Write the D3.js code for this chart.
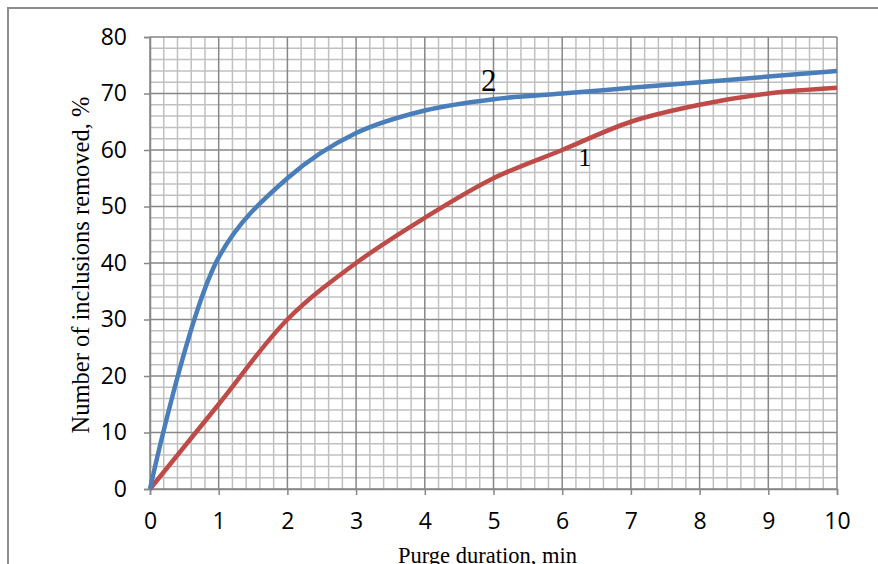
<!DOCTYPE html>
<html>
<script src="https://d3js.org/d3.v7.min.js"></script>
<body style="margin:0;background:#fff">
<svg id="chart" width="878" height="564"></svg>
<script>
// ---------------------------
// Data
// ---------------------------
var purgeMinutes = [0, 1, 2, 3, 4, 5, 6, 7, 8, 9, 10];
var removedCurve1 = [0, 15, 30, 40, 48, 55, 60, 65, 68, 70, 71];
var removedCurve2 = [0, 41, 55, 63, 67, 69, 70, 71, 72, 73, 74];
var xTicks = [0, 1, 2, 3, 4, 5, 6, 7, 8, 9, 10];
var yTicks = [0, 10, 20, 30, 40, 50, 60, 70, 80];

// ---------------------------
// Constants
// ---------------------------
var plotLeft = 150, plotRight = 837, plotTop = 37, plotBottom = 489;
var majorColour = "#878787";
var minorColour = "#c0c0c0";
var tickFont = "Open Sans, Liberation Sans, sans-serif";
var titleFont = "Liberation Serif, Times New Roman, serif";

var svg = d3.select("#chart");

// outer frame (cut off at the right and bottom like the original)
svg.append("rect")
  .attr("x", 8).attr("y", 8)
  .attr("width", 900).attr("height", 600)
  .attr("fill", "none")
  .attr("stroke", "#8c8c8c")
  .attr("stroke-width", 2);

var x = d3.scaleLinear().domain([0, 10]).range([plotLeft, plotRight]);
var y = d3.scaleLinear().domain([0, 80]).range([plotBottom, plotTop]);

// minor grid
var grid = svg.append("g");
grid.selectAll(".vminor")
  .data(d3.range(0, 10.01, 0.2).filter(function(d) { return Math.abs(d - Math.round(d)) > 0.01; }))
  .enter().append("line")
  .attr("x1", function(d) { return x(d); }).attr("x2", function(d) { return x(d); })
  .attr("y1", y(0)).attr("y2", y(80))
  .attr("stroke", minorColour).attr("stroke-width", 1.5);
grid.selectAll(".hminor")
  .data(d3.range(0, 80.01, 2).filter(function(d) { return d % 10 !== 0; }))
  .enter().append("line")
  .attr("x1", x(0)).attr("x2", x(10))
  .attr("y1", function(d) { return y(d); }).attr("y2", function(d) { return y(d); })
  .attr("stroke", minorColour).attr("stroke-width", 1.5);

// major grid
grid.selectAll(".vmajor")
  .data(xTicks)
  .enter().append("line")
  .attr("x1", function(d) { return x(d); }).attr("x2", function(d) { return x(d); })
  .attr("y1", y(0)).attr("y2", y(80))
  .attr("stroke", majorColour).attr("stroke-width", 1.5);
grid.selectAll(".hmajor")
  .data(yTicks)
  .enter().append("line")
  .attr("x1", x(0)).attr("x2", x(10))
  .attr("y1", function(d) { return y(d); }).attr("y2", function(d) { return y(d); })
  .attr("stroke", majorColour).attr("stroke-width", 1.5);

// axes
var xAxis = svg.append("g")
  .attr("transform", "translate(0," + plotBottom + ")")
  .call(d3.axisBottom(x).tickValues(xTicks).tickSize(6).tickPadding(18).tickFormat(d3.format("d")));
var yAxis = svg.append("g")
  .attr("transform", "translate(" + plotLeft + ",0)")
  .call(d3.axisLeft(y).tickValues(yTicks).tickSize(6).tickPadding(17).tickFormat(d3.format("d")));
[xAxis, yAxis].forEach(function(a) {
  a.select(".domain").attr("stroke", majorColour).attr("stroke-width", 1.5);
  a.selectAll(".tick line").attr("stroke", majorColour).attr("stroke-width", 1.5);
  a.selectAll("text").attr("font-family", tickFont).attr("font-size", 23).attr("fill", "#000");
});

// curves
var line = d3.line()
  .x(function(d) { return x(d[0]); })
  .y(function(d) { return y(d[1]); })
  .curve(d3.curveCatmullRom.alpha(0.5));

svg.append("path")
  .datum(purgeMinutes.map(function(t, i) { return [t, removedCurve1[i]]; }))
  .attr("d", line)
  .attr("fill", "none")
  .attr("stroke", "#be4b48")
  .attr("stroke-width", 4.5);

svg.append("path")
  .datum(purgeMinutes.map(function(t, i) { return [t, removedCurve2[i]]; }))
  .attr("d", line)
  .attr("fill", "none")
  .attr("stroke", "#4a7ebb")
  .attr("stroke-width", 4.5);

// curve labels
svg.append("text")
  .attr("x", x(4.93)).attr("y", y(70.5))
  .attr("text-anchor", "middle")
  .attr("font-family", titleFont).attr("font-size", 31)
  .text("2");
svg.append("text")
  .attr("x", x(6.33)).attr("y", y(57.2))
  .attr("text-anchor", "middle")
  .attr("font-family", titleFont).attr("font-size", 26)
  .text("1");

// axis titles
svg.append("text")
  .attr("x", (plotLeft + plotRight) / 2 - 6).attr("y", 563)
  .attr("text-anchor", "middle")
  .attr("font-family", titleFont).attr("font-size", 22.5)
  .text("Purge duration, min");

svg.append("text")
  .attr("transform", "translate(89,265) rotate(-90)")
  .attr("text-anchor", "middle")
  .attr("font-family", titleFont).attr("font-size", 24.5)
  .text("Number of inclusions removed, %");
</script>
</body>
</html>
